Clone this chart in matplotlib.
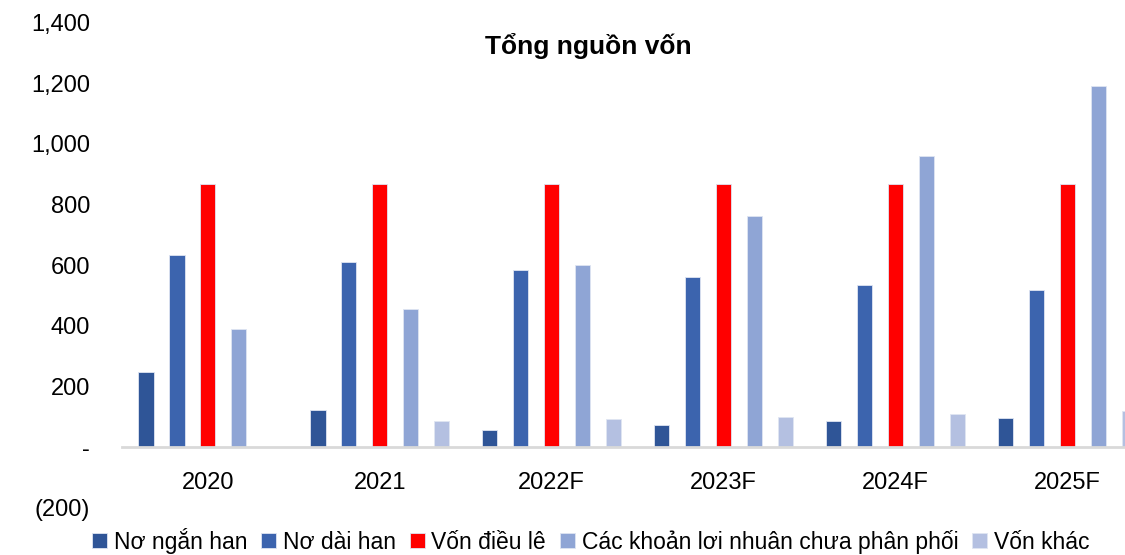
import numpy as np
import matplotlib.pyplot as plt
from matplotlib.ticker import FuncFormatter

years = ["2020", "2021", "2022F", "2023F", "2024F", "2025F"]
no_ngan_han = [247, 122, 56, 72, 86, 97]
no_dai_han = [635, 612, 585, 562, 536, 518]
von_dieu_le = [868, 868, 868, 868, 868, 868]
loi_nhuan = [391, 457, 599, 763, 960, 1191]
von_khac = [0, 86, 92, 99, 109, 118]

series = [
    ("Nơ ngắn han", no_ngan_han, "#2F5597"),
    ("Nơ dài han", no_dai_han, "#3C64AE"),
    ("Vốn điều lê", von_dieu_le, "#FF0000"),
    ("Các khoản lơi nhuân chưa phân phối", loi_nhuan, "#8FA5D5"),
    ("Vốn khác", von_khac, "#B4C0E1"),
]

plt.rcParams['font.family'] = ['Liberation Sans', 'DejaVu Sans']

fig = plt.figure(figsize=(11.25, 5.55), dpi=100)
ax = fig.add_axes([0.1084, 0.0847, 0.917, 0.875])

x = np.arange(len(years))
slot = 0.18
width = 0.088
for i, (name, vals, col) in enumerate(series):
    ax.bar(x + (i - 2) * slot, vals, width, color=col, label=name,
           edgecolor="#dfe5f2", linewidth=0.6)

ax.set_xlim(-0.5, len(years) - 0.5)
ax.set_ylim(-200, 1400)
ax.set_yticks(range(-200, 1401, 200))

def fmt(v, pos):
    if v == 0:
        return "-"
    if v < 0:
        return "({:,.0f})".format(-v)
    return "{:,.0f}".format(v)

ax.yaxis.set_major_formatter(FuncFormatter(fmt))
ax.tick_params(axis='y', length=0, labelsize=17, pad=23)
ax.set_xticks(x)
ax.set_xticklabels(years)
ax.tick_params(axis='x', length=0, labelsize=17, pad=18)

for s in ["top", "right", "left"]:
    ax.spines[s].set_visible(False)
ax.spines["bottom"].set_position(("data", 0))
ax.spines["bottom"].set_color("#D9D9D9")
ax.spines["bottom"].set_linewidth(2)

fig.text(0.523, 0.918, "Tổng nguồn vốn", ha="center", va="center",
         fontsize=19, fontweight="bold")

fig.legend(loc="lower center", bbox_to_anchor=(0.525, -0.035), ncol=5,
           frameon=False, fontsize=16.5, handlelength=0.65, handleheight=0.65,
           handletextpad=0.3, columnspacing=0.6)

fig.savefig("out.png", dpi=100)
